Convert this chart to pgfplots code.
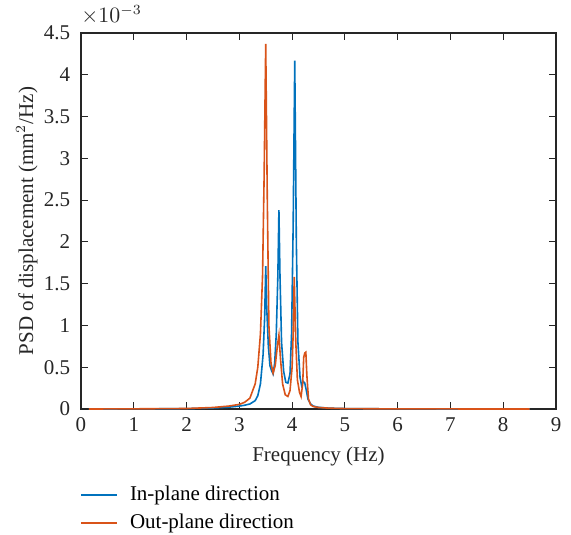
\documentclass[border=0pt]{standalone}
\usepackage{pgfplots}
\pgfplotsset{compat=1.18}
\usepackage{fontspec}
\setmainfont{Liberation Serif}
\definecolor{mblue}{RGB}{0,114,189}
\definecolor{morange}{RGB}{217,83,25}
\definecolor{axgray}{RGB}{38,38,38}
\begin{document}
\fontsize{10.5}{12.6}\selectfont
\begin{tikzpicture}
\begin{axis}[
  name=ax,
  scale only axis,
  width=237.5pt, height=188pt,
  xmin=0, xmax=9, ymin=0, ymax=4.5,
  xtick={0,1,...,9},
  ytick={0,0.5,1,1.5,2,2.5,3,3.5,4,4.5},
  yticklabels={0,0.5,1,1.5,2,2.5,3,3.5,4,4.5},
  /pgf/number format/assume math mode=true,
  tick align=inside,
  major tick length=3.5pt,
  axis line style={axgray, line width=0.6pt},
  every tick/.style={axgray, line width=0.6pt},
  tick label style={font=\fontsize{10.5}{12.6}\selectfont, text=axgray},
  xticklabel style={anchor=base, yshift=-11.3pt},
  yticklabel style={xshift=-1.7pt},
  label style={font=\fontsize{10.5}{12.6}\selectfont, text=axgray},
  xlabel={Frequency (Hz)},
  ylabel={PSD of displacement (mm$^2$/Hz)},
  xlabel style={at={(axis description cs:0.5,-0.14)}, anchor=base},
  ylabel style={at={(axis description cs:-0.101,0.5)}, anchor=base},
  legend style={draw=none, fill=none, at={(0,0)}, anchor=north west,
    xshift=-3.5pt, yshift=-34.5pt, column sep=4pt, row sep=1.1pt,
    font=\fontsize{10.5}{12.6}\selectfont},
  legend cell align=left,
]
\addplot[color=mblue, line width=0.8pt,
  legend image code/.code={\draw[draw=mblue, line width=0.8pt] (0pt,0pt) -- (18pt,0pt);}] coordinates {
(0.15,0) (1.0,0.001) (2.0,0.004) (2.5,0.012) (2.8,0.022) (3.0,0.035) (3.1,0.045)
(3.2,0.06) (3.3,0.10) (3.35,0.16) (3.4,0.30) (3.45,0.65) (3.48,1.1) (3.5,1.71)
(3.52,1.2) (3.55,0.75) (3.58,0.52) (3.61,0.46) (3.64,0.42) (3.67,0.55) (3.7,0.9)
(3.73,1.6) (3.75,2.38) (3.77,1.6) (3.8,0.8) (3.84,0.45) (3.88,0.32) (3.92,0.31)
(3.96,0.42) (3.99,0.9) (4.02,2.2) (4.05,4.17) (4.08,2.0) (4.11,0.8) (4.15,0.38)
(4.18,0.28) (4.21,0.33) (4.24,0.31) (4.27,0.22) (4.3,0.12) (4.35,0.06) (4.4,0.035)
(4.5,0.02) (4.7,0.01) (5.0,0.005) (6.0,0.001) (7.0,0.0005) (8.5,0.0002)
};
\addlegendentry{In-plane direction}
\addplot[color=morange, line width=0.8pt,
  legend image code/.code={\draw[draw=morange, line width=0.8pt] (0pt,0pt) -- (18pt,0pt);}] coordinates {
(0.15,0) (1.0,0.002) (2.0,0.006) (2.5,0.018) (2.8,0.035) (3.0,0.055) (3.1,0.08)
(3.2,0.13) (3.3,0.30) (3.35,0.5) (3.4,0.9) (3.44,1.6) (3.47,2.8) (3.5,4.37)
(3.53,2.5) (3.56,1.0) (3.6,0.55) (3.64,0.43) (3.68,0.52) (3.72,0.75) (3.75,0.885)
(3.78,0.6) (3.82,0.3) (3.87,0.17) (3.92,0.15) (3.96,0.22) (4.0,0.5) (4.02,0.9)
(4.04,1.58) (4.07,0.8) (4.1,0.35) (4.14,0.2) (4.17,0.15) (4.2,0.3) (4.22,0.62)
(4.24,0.67) (4.26,0.68) (4.28,0.4) (4.31,0.12) (4.35,0.05) (4.4,0.03) (4.5,0.018)
(4.7,0.01) (5.0,0.005) (6.0,0.001) (8.5,0.0002)
};
\addlegendentry{Out-plane direction}
\end{axis}
\node[anchor=base west, inner sep=0pt, text=axgray] at ([yshift=5.2pt]ax.north west) {$\times 10^{-3}$};
\pgfresetboundingbox
\path ([shift={(-40.5pt,-62.5pt)}]ax.south west) rectangle ([shift={(7.5pt,16.5pt)}]ax.north east);
\end{tikzpicture}
\end{document}
